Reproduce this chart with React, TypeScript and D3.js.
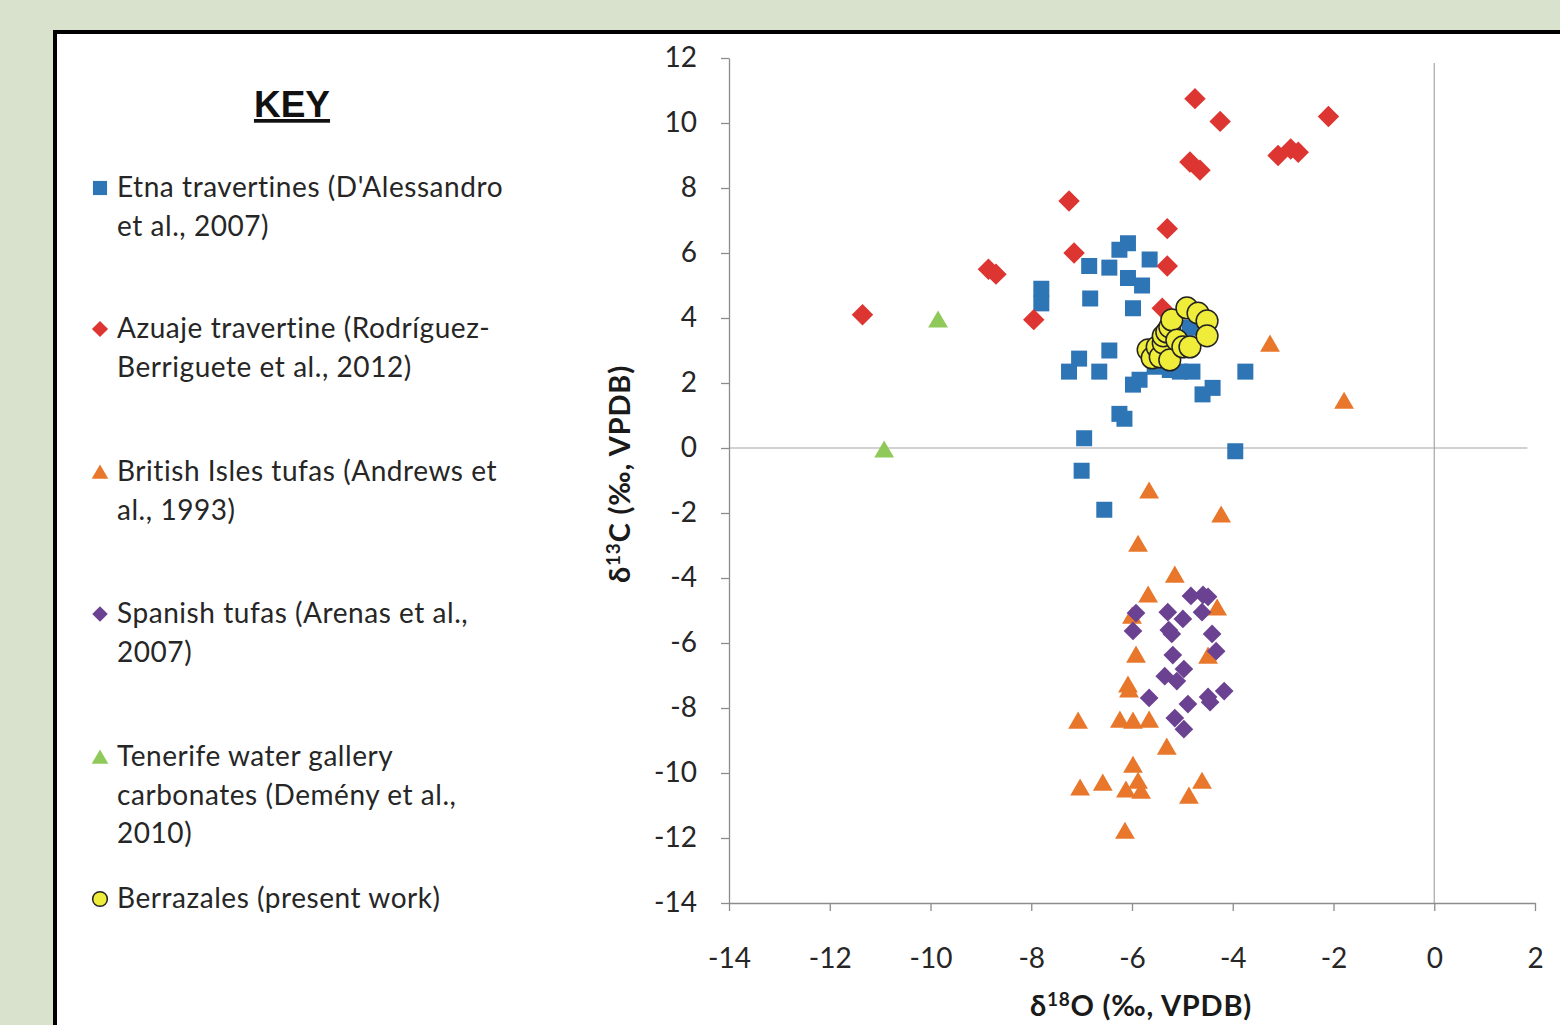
import { useEffect, useRef } from 'react';
import * as d3 from 'd3';

// δ18O, δ13C pairs
const etna: [number, number][] = [
  [-7.8, 4.9], [-7.8, 4.45], [-6.85, 5.6], [-6.45, 5.55], [-6.25, 6.1], [-6.08, 6.3],
  [-5.65, 5.8], [-6.08, 5.23], [-5.8, 5.0], [-6.83, 4.6], [-5.98, 4.3], [-6.45, 3.0],
  [-7.05, 2.75], [-7.25, 2.35], [-6.65, 2.35], [-5.98, 1.95], [-5.85, 2.1], [-5.55, 2.5],
  [-5.25, 2.4], [-5.05, 2.35], [-4.8, 2.35], [-4.85, 3.7], [-4.6, 1.65], [-4.4, 1.85],
  [-3.75, 2.35], [-6.25, 1.05], [-6.15, 0.9], [-6.95, 0.3], [-3.95, -0.1], [-7.0, -0.7],
  [-6.55, -1.9],
];

const azuaje: [number, number][] = [
  [-4.75, 10.75], [-4.25, 10.05], [-2.1, 10.2], [-3.1, 9.0], [-2.85, 9.2], [-2.7, 9.1],
  [-4.85, 8.8], [-4.65, 8.55], [-7.25, 7.6], [-5.3, 6.75], [-7.15, 6.0], [-8.85, 5.5],
  [-8.7, 5.35], [-5.3, 5.6], [-11.35, 4.1], [-7.95, 3.95], [-5.4, 4.3],
];

const britishIsles: [number, number][] = [
  [-3.26, 3.14], [-1.79, 1.38], [-5.66, -1.38], [-4.23, -2.12], [-5.88, -3.02],
  [-5.15, -3.97], [-5.68, -4.58], [-4.31, -4.98], [-6.0, -5.23], [-5.92, -6.43],
  [-4.49, -6.46], [-6.08, -7.35], [-6.06, -7.5], [-7.07, -8.46], [-6.24, -8.43],
  [-5.98, -8.46], [-5.66, -8.43], [-5.31, -9.26], [-5.98, -9.82], [-7.03, -10.52],
  [-6.58, -10.37], [-6.12, -10.58], [-5.88, -10.31], [-5.82, -10.62], [-4.61, -10.31],
  [-4.87, -10.77], [-6.14, -11.85],
];

const spanish: [number, number][] = [
  [-4.83, -4.55], [-4.59, -4.52], [-4.49, -4.58], [-5.92, -5.08], [-5.29, -5.05],
  [-4.99, -5.26], [-4.61, -5.05], [-5.98, -5.63], [-5.27, -5.6], [-5.21, -5.72],
  [-4.41, -5.72], [-5.19, -6.37], [-4.33, -6.25], [-4.97, -6.8], [-5.35, -7.02],
  [-5.11, -7.17], [-5.66, -7.69], [-4.17, -7.48], [-4.89, -7.88], [-4.49, -7.66],
  [-4.45, -7.82], [-5.15, -8.31], [-4.97, -8.65],
];

const tenerife: [number, number][] = [
  [-9.85, 3.88], [-10.92, -0.12],
];

const berrazales: [number, number][] = [
  [-5.68, 3.02], [-5.6, 2.77], [-5.5, 3.11], [-5.44, 2.8], [-5.38, 3.23], [-5.25, 2.71],
  [-5.38, 3.45], [-5.31, 3.57], [-5.25, 3.72], [-5.21, 3.94], [-5.11, 3.32], [-4.99, 3.11],
  [-4.85, 3.11], [-4.91, 4.31], [-4.69, 4.15], [-4.51, 3.91], [-4.51, 3.45],
];

const xTicks = [-14, -12, -10, -8, -6, -4, -2, 0, 2];
const yTicks = [-14, -12, -10, -8, -6, -4, -2, 0, 2, 4, 6, 8, 10, 12];

const legendLines = [
  ["Etna travertines (D'Alessandro", 'et al., 2007)'],
  ['Azuaje travertine (Rodríguez-', 'Berriguete et al., 2012)'],
  ['British Isles tufas (Andrews et', 'al., 1993)'],
  ['Spanish tufas (Arenas et al.,', '2007)'],
  ['Tenerife water gallery', 'carbonates (Demény et al.,', '2010)'],
  ['Berrazales (present work)'],
];

const W = 1560;
const H = 1025;
const FONT = 'Lato, "Open Sans", sans-serif';

export default function App() {
  const svgRef = useRef<SVGSVGElement>(null);

  useEffect(() => {
    if (!svgRef.current) return;
    const svg = d3.select(svgRef.current);
    svg.selectAll('*').remove();

    // background + frame
    svg.append('rect').attr('width', W).attr('height', H).attr('fill', '#d8e2cc');
    svg.append('rect')
      .attr('x', 55).attr('y', 32)
      .attr('width', W).attr('height', H)
      .attr('fill', '#fff')
      .attr('stroke', '#000')
      .attr('stroke-width', 4);

    const x = d3.scaleLinear().domain([-14, 2]).range([729, 1535]);
    const y = d3.scaleLinear().domain([-14, 12]).range([903, 58]);

    // zero lines
    svg.append('line')
      .attr('x1', x(-14)).attr('x2', x(1.85))
      .attr('y1', y(0)).attr('y2', y(0))
      .attr('stroke', '#a6a6a6').attr('stroke-width', 1.2);
    svg.append('line')
      .attr('x1', x(0)).attr('x2', x(0))
      .attr('y1', y(-14)).attr('y2', y(11.85))
      .attr('stroke', '#a6a6a6').attr('stroke-width', 1.2);

    // axes
    const xAxis = svg.append('g')
      .attr('transform', `translate(0,${y(-14)})`)
      .call(d3.axisBottom(x).tickValues(xTicks).tickSize(8).tickSizeOuter(0).tickPadding(37)
        .tickFormat((d) => String(d)));
    const yAxis = svg.append('g')
      .attr('transform', `translate(${x(-14)},0)`)
      .call(d3.axisLeft(y).tickValues(yTicks).tickSize(8).tickSizeOuter(0).tickPadding(24)
        .tickFormat((d) => String(d)));

    [xAxis, yAxis].forEach((a) => {
      a.select('.domain').attr('stroke', '#8c8c8c').attr('stroke-width', 1.3);
      a.selectAll('.tick line').attr('stroke', '#8c8c8c').attr('stroke-width', 1.3);
      a.selectAll('.tick text')
        .attr('fill', '#262626')
        .style('font-family', FONT)
        .style('font-size', '28px');
    });

    // axis titles
    const yTitle = svg.append('text')
      .attr('transform', `translate(630,474) rotate(-90)`)
      .attr('text-anchor', 'middle')
      .style('font-family', FONT)
      .style('font-size', '29px')
      .style('font-weight', '700')
      .style('letter-spacing', '0.8px')
      .attr('fill', '#1a1a1a');
    yTitle.append('tspan').text('δ');
    yTitle.append('tspan').attr('dy', -10).style('font-size', '19px').text('13');
    yTitle.append('tspan').attr('dy', 10).text('C (‰, VPDB)');

    const xTitle = svg.append('text')
      .attr('x', 1141).attr('y', 1016)
      .attr('text-anchor', 'middle')
      .style('font-family', FONT)
      .style('font-size', '29px')
      .style('font-weight', '700')
      .style('letter-spacing', '0.8px')
      .attr('fill', '#1a1a1a');
    xTitle.append('tspan').text('δ');
    xTitle.append('tspan').attr('dy', -10).style('font-size', '19px').text('18');
    xTitle.append('tspan').attr('dy', 10).text('O (‰, VPDB)');

    // series
    const series = [
      { data: etna, type: d3.symbolSquare, size: 256, rot: 0, fill: '#2e75b6', stroke: 'none' },
      { data: azuaje, type: d3.symbolSquare, size: 230, rot: 45, fill: '#dd3531', stroke: 'none' },
      { data: britishIsles, type: d3.symbolTriangle, size: 170, rot: 0, fill: '#e8772b', stroke: 'none' },
      { data: spanish, type: d3.symbolSquare, size: 175, rot: 45, fill: '#6b4192', stroke: 'none' },
      { data: tenerife, type: d3.symbolTriangle, size: 170, rot: 0, fill: '#8fc95a', stroke: 'none' },
      { data: berrazales, type: d3.symbolCircle, size: 370, rot: 0, fill: '#f0ec3a', stroke: '#222' },
    ];

    series.forEach((s) => {
      svg.append('g')
        .selectAll('path')
        .data(s.data)
        .enter()
        .append('path')
        .attr('d', d3.symbol(s.type, s.size)())
        .attr('transform', (d) => `translate(${x(d[0])},${y(d[1])}) rotate(${s.rot})`)
        .attr('fill', s.fill)
        .attr('stroke', s.stroke)
        .attr('stroke-width', 1.5);
    });

    // legend
    svg.append('text')
      .attr('x', 292).attr('y', 117)
      .attr('text-anchor', 'middle')
      .style('font-family', '"Liberation Sans", Arial, sans-serif')
      .style('font-size', '37px')
      .style('font-weight', '700')
      .style('text-decoration', 'underline')
      .attr('fill', '#111')
      .text('KEY');

    const legendTop = [188, 329, 472, 614, 757, 899];
    const legendSize = [200, 130, 120, 120, 120, 170];
    legendLines.forEach((lines, i) => {
      const s = series[i];
      svg.append('path')
        .attr('d', d3.symbol(s.type, legendSize[i])())
        .attr('transform', `translate(100,${legendTop[i] + (s.type === d3.symbolTriangle ? 2 : 0)}) rotate(${s.rot})`)
        .attr('fill', s.fill)
        .attr('stroke', s.stroke)
        .attr('stroke-width', 1.5);
      const t = svg.append('text')
        .attr('x', 117).attr('y', legendTop[i] + 9)
        .style('font-family', FONT)
        .style('font-size', '28px')
        .style('letter-spacing', '0.55px')
        .attr('fill', '#262626');
      lines.forEach((ln, j) => {
        t.append('tspan').attr('x', 117).attr('dy', j === 0 ? 0 : 38.5).text(ln);
      });
    });
  }, []);

  return (
    <svg
      ref={svgRef}
      width={W}
      height={H}
      style={{ position: 'absolute', left: 0, top: 0, display: 'block' }}
    />
  );
}
